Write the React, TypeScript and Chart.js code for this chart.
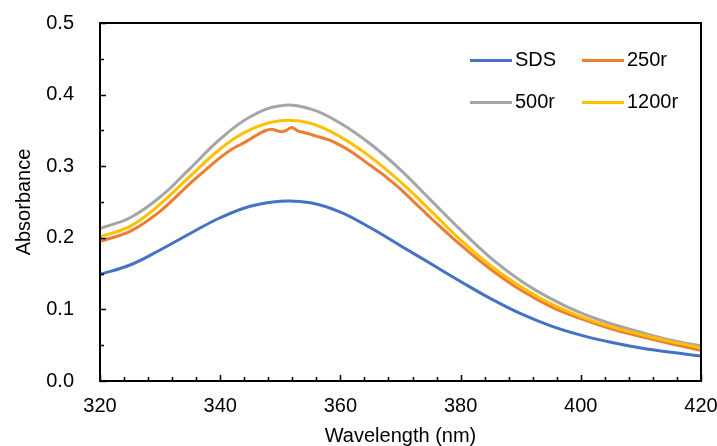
import React, { useEffect, useRef } from "react";
import { Chart, registerables } from "chart.js";

Chart.register(...registerables);

// ---- data ----
const SERIES_LABELS = ["SDS", "250r", "500r", "1200r"];
const SERIES_COLORS = ["#4472C4", "#ED7D31", "#A5A5A5", "#FFC000"];

const WAVELENGTHS = [320, 325, 330, 335, 340, 345, 350, 355, 360, 365, 370, 375, 380, 385, 390, 395, 400, 405, 410, 415, 420];

const SDS = [0.149, 0.162, 0.183, 0.206, 0.228, 0.244, 0.2512, 0.249, 0.236, 0.214, 0.189, 0.164, 0.139, 0.115, 0.094, 0.077, 0.064, 0.054, 0.046, 0.040, 0.035];
const R500 = [0.213, 0.228, 0.257, 0.297, 0.338, 0.369, 0.3845, 0.380, 0.360, 0.331, 0.295, 0.253, 0.211, 0.172, 0.140, 0.115, 0.095, 0.080, 0.068, 0.057, 0.049];
const R1200 = [0.2015, 0.216, 0.247, 0.286, 0.324, 0.351, 0.3635, 0.360, 0.341, 0.313, 0.278, 0.238, 0.197, 0.161, 0.132, 0.108, 0.090, 0.076, 0.065, 0.055, 0.0465];

const WAVELENGTHS_250 = [320, 325, 330, 335, 338, 340, 342, 344, 345, 346, 347.5, 348.6, 349.5, 350.2, 351, 351.9, 353, 354, 356, 358, 360, 362, 365, 367, 368, 370, 372, 374, 375, 380, 385, 390, 395, 400, 405, 410, 415, 420];
const R250 = [0.195, 0.209, 0.237, 0.276, 0.298, 0.312, 0.324, 0.333, 0.338, 0.343, 0.3495, 0.3515, 0.3495, 0.348, 0.350, 0.354, 0.349, 0.347, 0.342, 0.337, 0.329, 0.319, 0.301, 0.289, 0.282, 0.268, 0.252, 0.236, 0.228, 0.190, 0.156, 0.127, 0.104, 0.087, 0.073, 0.062, 0.052, 0.043];

const X_MIN = 320, X_MAX = 420, X_STEP = 20, X_MINOR = 4;
const Y_MIN = 0, Y_MAX = 0.5, Y_STEP = 0.1, Y_MINOR = 0.05;

const FONT_FAMILY = "'Liberation Sans', Arial, sans-serif";
const TEXT_COLOR = "#000000";

const toPoints = (xs: number[], ys: number[]) => xs.map((x, i) => ({ x, y: ys[i] }));

const axisDecor = {
  id: "axisDecor",
  afterDraw(chart: any) {
    const { ctx, chartArea: a, scales } = chart;
    const xs = scales.x;
    const ys = scales.y;
    ctx.save();
    ctx.strokeStyle = "#000";
    ctx.lineWidth = 1.5;
    ctx.beginPath();
    for (let v = X_MIN; v <= X_MAX + 1e-9; v += X_MINOR) {
      const px = Math.round(xs.getPixelForValue(v)) + 0.5;
      const major = Math.abs((v - X_MIN) % X_STEP) < 1e-9;
      ctx.moveTo(px, a.bottom);
      ctx.lineTo(px, a.bottom - (major ? 6 : 4));
    }
    for (let v = Y_MIN; v <= Y_MAX + 1e-9; v += Y_MINOR) {
      const py = Math.round(ys.getPixelForValue(v)) + 0.5;
      const major = Math.abs(Math.round(v / Y_STEP) * Y_STEP - v) < 1e-6;
      ctx.moveTo(a.left, py);
      ctx.lineTo(a.left + (major ? 6 : 4), py);
    }
    ctx.stroke();
    ctx.lineWidth = 2;
    ctx.strokeRect(a.left, a.top, a.right - a.left, a.bottom - a.top);
    ctx.restore();
  },
};

const LEGEND_SLOTS = [
  { x: 470, y: 60.5 },
  { x: 582, y: 60.5 },
  { x: 470, y: 102.5 },
  { x: 582, y: 102.5 },
];

const customLegend = {
  id: "customLegend",
  afterDraw(chart: any) {
    const { ctx } = chart;
    ctx.save();
    ctx.font = `20px ${FONT_FAMILY}`;
    ctx.textBaseline = "middle";
    ctx.textAlign = "left";
    chart.data.datasets.forEach((ds: any, i: number) => {
      const s = LEGEND_SLOTS[i];
      ctx.strokeStyle = ds.borderColor;
      ctx.lineWidth = 3;
      ctx.beginPath();
      ctx.moveTo(s.x, s.y);
      ctx.lineTo(s.x + 42, s.y);
      ctx.stroke();
      ctx.fillStyle = TEXT_COLOR;
      ctx.fillText(ds.label, s.x + 45, s.y - 0.5);
    });
    ctx.restore();
  },
};

export default function App() {
  const ref = useRef<HTMLCanvasElement | null>(null);

  useEffect(() => {
    if (!ref.current) return;
    const seriesData = [
      toPoints(WAVELENGTHS, SDS),
      toPoints(WAVELENGTHS_250, R250),
      toPoints(WAVELENGTHS, R500),
      toPoints(WAVELENGTHS, R1200),
    ];
    const chart = new Chart(ref.current, {
      type: "line",
      data: {
        datasets: SERIES_LABELS.map((label, i) => ({
          label,
          data: seriesData[i],
          borderColor: SERIES_COLORS[i],
          backgroundColor: SERIES_COLORS[i],
          borderWidth: 3,
          pointRadius: 0,
          tension: i === 1 ? 0.3 : 0.4,
          fill: false,
          order: SERIES_LABELS.length - i,
        })),
      },
      options: {
        animation: false,
        responsive: false,
        maintainAspectRatio: false,
        layout: { padding: { left: 0, right: 16, top: 23, bottom: 0 } },
        plugins: {
          legend: { display: false },
          tooltip: { enabled: false },
        },
        scales: {
          x: {
            type: "linear",
            min: X_MIN,
            max: X_MAX,
            grid: { display: false, drawTicks: false, tickLength: 0 },
            border: { display: false },
            ticks: {
              stepSize: X_STEP,
              padding: 13,
              color: TEXT_COLOR,
              font: { family: FONT_FAMILY, size: 20 },
              maxRotation: 0,
              autoSkip: false,
            },
            title: {
              display: true,
              text: "Wavelength (nm)",
              color: TEXT_COLOR,
              font: { family: FONT_FAMILY, size: 20 },
              padding: { top: 0, bottom: -2.5 },
            },
            afterFit: (s: any) => {
              s.height = 65;
              s.paddingLeft = 0;
              s.paddingRight = 0;
            },
          },
          y: {
            type: "linear",
            min: Y_MIN,
            max: Y_MAX,
            grid: { display: false, drawTicks: false, tickLength: 0 },
            border: { display: false },
            ticks: {
              stepSize: Y_STEP,
              padding: 26,
              color: TEXT_COLOR,
              font: { family: FONT_FAMILY, size: 20 },
              callback: (v: any) => Number(v).toFixed(1),
            },
            title: {
              display: true,
              text: "Absorbance",
              color: TEXT_COLOR,
              font: { family: FONT_FAMILY, size: 20 },
              padding: { top: 12.5, bottom: 0 },
            },
            afterFit: (s: any) => {
              s.width = 100;
              s.paddingTop = 0;
              s.paddingBottom = 0;
            },
          },
        },
      },
      plugins: [axisDecor, customLegend],
    } as any);
    return () => chart.destroy();
  }, []);

  return (
    <div style={{ position: "fixed", left: 0, top: 0, width: 717, height: 446, background: "#fff" }}>
      <canvas ref={ref} width={717} height={446} style={{ display: "block", width: 717, height: 446 }} />
    </div>
  );
}
